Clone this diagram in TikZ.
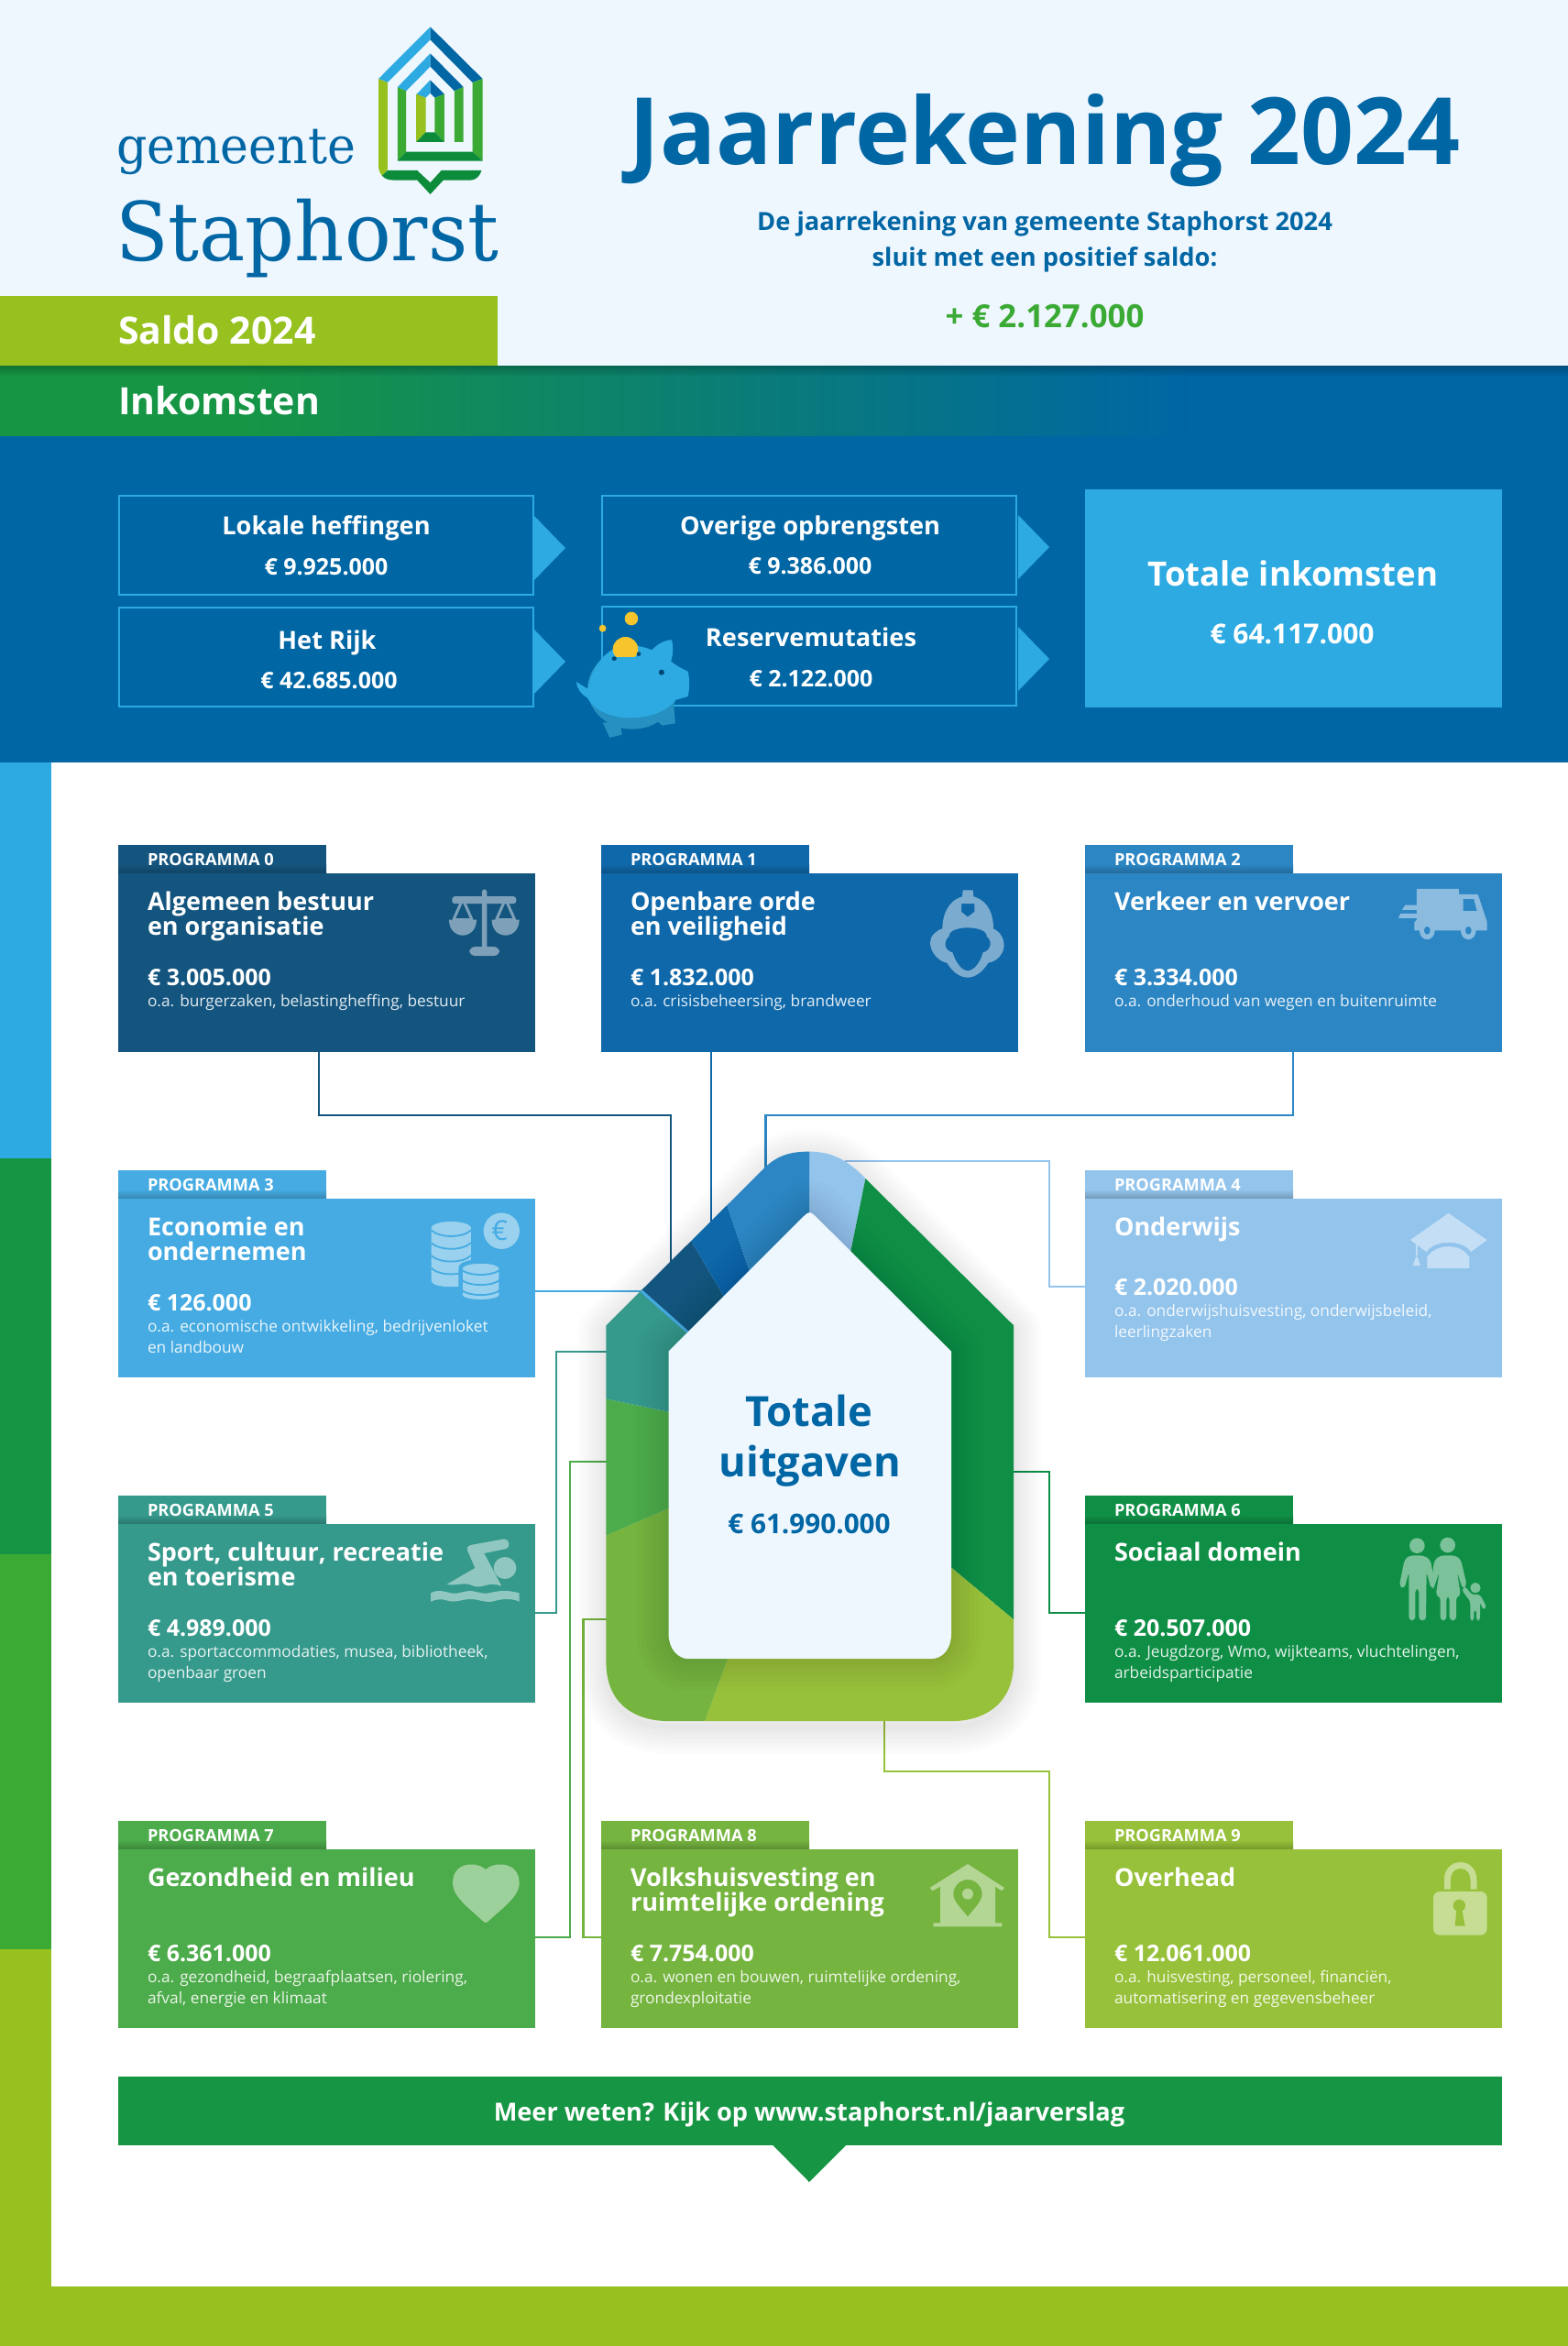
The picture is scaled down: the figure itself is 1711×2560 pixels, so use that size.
\documentclass[tikz,border=0pt]{standalone}
\usepackage{fontspec}
\setmainfont{Open Sans}
\newfontfamily\logofont[FakeStretch=0.95]{DejaVu Serif}
\usetikzlibrary{calc}
\definecolor{hdr}{HTML}{EEF6FE}
\definecolor{bluem}{HTML}{0066A4}
\definecolor{skyb}{HTML}{2DAAE2}
\definecolor{lime}{HTML}{97C11F}
\definecolor{gr}{HTML}{169644}
\definecolor{gr2}{HTML}{3BAA35}
\definecolor{grd}{HTML}{0C8B3A}
\definecolor{pa}{HTML}{14557F}
\definecolor{pb}{HTML}{0F68A9}
\definecolor{pc}{HTML}{2C86C4}
\definecolor{pd}{HTML}{45ABE2}
\definecolor{pe}{HTML}{93C4EC}
\definecolor{pf}{HTML}{35998C}
\definecolor{pg}{HTML}{0F8F46}
\definecolor{ph}{HTML}{4CAB4A}
\definecolor{pi}{HTML}{75B43F}
\definecolor{pj}{HTML}{97C13A}
\definecolor{coin}{HTML}{F6C52D}
\pgfdeclarehorizontalshading{inkbar}{100bp}{color(0bp)=(gr);color(32.3bp)=(gr);color(63bp)=(bluem);color(100bp)=(bluem)}
\newcommand\fsz[1]{\fontsize{#1}{#1}\selectfont}
\tikzset{
  progbox/.style={anchor=north west,minimum width=454.5,minimum height=195,inner sep=0,outer sep=0},
  inbox/.style={anchor=north west,draw=skyb,line width=2.2pt,fill=bluem,minimum width=452,minimum height=108,inner sep=0,outer sep=0},
  txt/.style={inner sep=0,outer sep=0,text=white},
  lbl/.style={txt,anchor=base west},
  ctr/.style={txt,anchor=base},
  conn/.style={line width=2.4pt,miter limit=10},
}
\def\amtoff{122}
\newcommand\prog[9]{%
  \fill[#4] (#2,#3-31) rectangle (#2+227,#3-9);
  \shade[top color=#4,bottom color=#4!78!black] (#2,#3-10) rectangle (#2+227,#3);
  \node[progbox,fill=#4] (p#1) at (#2,#3) {};
  \node[lbl,font=\bfseries\fsz{18.2}] (p#1tab) at (#2+32,#3-9) {PROGRAMMA #1};
  \node[lbl,font=\bfseries\fsz{27}] (p#1ta) at (#2+32,#3+40) {#5};
  \node[lbl,font=\bfseries\fsz{27}] (p#1tb) at (#2+32,#3+67) {#6};
  \node[lbl,font=\bfseries\fsz{25}] (p#1am) at (#2+32,#3+\amtoff) {#7};
  \node[lbl,font=\fsz{17.3},text=white!88!#4] (p#1da) at (#2+32,#3+\amtoff+23.5) {#8};
  \node[lbl,font=\fsz{17.3},text=white!88!#4] (p#1db) at (#2+32,#3+\amtoff+46) {#9};
}
\def\outerh{(720,155) .. controls (760,125) and (800,120) .. (845,120) .. controls (900,120) and (950,135) .. (1005,183) -- (1427,522) -- (1427,1300) .. controls (1427,1400) and (1340,1437) .. (1250,1437) -- (445,1437) .. controls (350,1437) and (265,1400) .. (265,1300) -- (265,522) -- cycle}
\def\innerh{(825,272) .. controls (845,257) and (845,257) .. (865,272) -- (1249,582) -- (1249,1235) .. controls (1249,1270) and (1225,1293) .. (1190,1293) -- (500,1293) .. controls (470,1293) and (443,1270) .. (443,1235) -- (443,582) -- cycle}
\begin{document}
\begin{tikzpicture}[x=1pt,y=-1pt]
\useasboundingbox (0,0) rectangle (1711,2560);
\fill[white] (0,0) rectangle (1711,2560);
% header
\fill[hdr] (0,0) rectangle (1711,399);
\fill[lime] (0,323) rectangle (543,399);
\fill[bluem] (0,475) rectangle (1711,832);
\shade[shading=inkbar] (0,399) rectangle (1711,475.5);
\foreach \i in {0,...,7} \fill[black,opacity=.03] (0,399) rectangle (1711,399+\i*1.6);
% sidebar
\fill[skyb] (0,832) rectangle (56,1264);
\fill[gr] (0,1264) rectangle (56,1696);
\fill[gr2] (0,1696) rectangle (56,2127);
\fill[lime] (0,2127) rectangle (56,2560);
\fill[lime] (0,2495) rectangle (1711,2560);
% logo
\begin{scope}[xscale=.5485,yscale=.3333]
\fill[skyb] (856,88)--(856,130)--(771,270)--(753,258)--cycle;
\fill[bluem] (856,88)--(960,258)--(940,270)--(856,130)--cycle;
\fill[skyb] (856,175)--(856,218)--(808,298)--(791,285)--cycle;
\fill[bluem] (856,175)--(922,285)--(904,298)--(856,218)--cycle;
\fill[skyb] (856,262)--(828,310)--(847,320)--(856,305)--cycle;
\fill[bluem] (856,262)--(884,308)--(865,320)--(856,305)--cycle;
\fill[lime] (753,258)--(771,270)--(771,556)--(760,575) .. controls (755,565) and (753,555) .. (753,540)--cycle;
\fill[gr2] (960,258)--(940,270)--(940,497)--(960,527)--cycle;
\fill[gr2] (791,285)--(808,298)--(808,497)--(791,527)--cycle;
\fill[gr2] (922,285)--(904,298)--(904,465)--(922,465)--cycle;
\fill[lime] (828,308)--(847,320)--(847,433)--(828,465)--cycle;
\fill[gr2] (884,308)--(865,320)--(865,433)--(884,465)--cycle;
\fill[grd] (828,465)--(884,465)--(865,433)--(847,433)--cycle;
\fill[grd] (791,527)--(960,527)--(940,497)--(808,497)--cycle;
\fill[grd] (771,558)--(830,558)--(856,598)--(878,558)--(958,558)--(955,570) .. controls (950,582) and (945,590) .. (935,590)--(882,590)--(856,636)--(830,590)--(785,590) .. controls (772,590) and (765,585) .. (760,575)--cycle;
\end{scope}
\node[txt,anchor=base west,text=bluem,font=\logofont\fsz{55}] (gem) at (127,178) {gemeente};
\node[txt,anchor=base west,text=bluem,font=\logofont\fsz{88.7}] (sta) at (126,284) {Staphorst};
% title
\node[ctr,text=bluem,font=\bfseries\fsz{101.4}] (jr) at (1140,179) {Jaarrekening 2024};
\node[ctr,text=bluem,font=\bfseries\fsz{27.3}] (sa) at (1140,251) {De jaarrekening van gemeente Staphorst 2024};
\node[ctr,text=bluem,font=\bfseries\fsz{27.3}] (sb) at (1140,290) {sluit met een positief saldo:};
\node[ctr,text=gr2,font=\bfseries\fsz{34.8}] (pl) at (1140,357) {+ € 2.127.000};
\node[lbl,font=\bfseries\fsz{41}] (sal) at (129,375) {Saldo 2024};
\node[lbl,font=\bfseries\fsz{41}] (ink) at (129,452) {Inkomsten};
% income boxes
\foreach \a/\b in {583/563,583/687,1111/562,1111/684}
  \fill[skyb] (\a,\b) -- (\a+34,\b+35) -- (\a,\b+70) -- cycle;
\node[inbox] (lok) at (130,541) {};
\node[inbox] (ove) at (657,541) {};
\node[inbox] (rij) at (130,663) {};
\node[inbox] (res) at (657,662) {};
\node[anchor=north west,fill=skyb,minimum width=455,minimum height=238,inner sep=0,outer sep=0] (tot) at (1184,534) {};
\node[ctr,font=\bfseries\fsz{27.2}] (t1) at (356,583) {Lokale heffingen};
\node[ctr,font=\bfseries\fsz{25}] (a1) at (356,627) {€ 9.925.000};
\node[ctr,font=\bfseries\fsz{27.2}] (t2) at (884,583) {Overige opbrengsten};
\node[ctr,font=\bfseries\fsz{25}] (a2) at (884,626) {€ 9.386.000};
\node[ctr,font=\bfseries\fsz{27.2}] (t3) at (357,708) {Het Rijk};
\node[ctr,font=\bfseries\fsz{25}] (a3) at (359,751) {€ 42.685.000};
\node[ctr,font=\bfseries\fsz{27.2}] (t4) at (885,705) {Reservemutaties};
\node[ctr,font=\bfseries\fsz{25}] (a4) at (885,749) {€ 2.122.000};
\node[ctr,font=\bfseries\fsz{36.6}] (t5) at (1411,639) {Totale inkomsten};
\node[ctr,font=\bfseries\fsz{30}] (a5) at (1410,702) {€ 64.117.000};
% piggy
\begin{scope}[shift={(560,620)},xscale=.3827,yscale=.3333]
\fill[coin] (337,165) ellipse [x radius=19,y radius=22];
\fill[coin] (255,197) ellipse [x radius=10,y radius=12];
\fill[skyb!85!black] (340,395) ellipse [x radius=128,y radius=132];
\fill[skyb!85!black] (255,505)--(275,555)--(310,545)--(305,505)--cycle (410,500)--(425,515)--(462,508)--(458,450)--cycle;
\fill[skyb] (180,372) -- (212,395) .. controls (225,320) and (260,275) .. (300,258) -- (355,255) .. controls (370,258) and (385,262) .. (395,268) .. controls (410,250) and (430,235) .. (452,235) .. controls (458,260) and (455,285) .. (450,305) .. controls (465,320) and (480,328) .. (498,338) .. controls (505,370) and (502,400) .. (498,420) -- (462,432) .. controls (440,470) and (380,492) .. (330,490) .. controls (280,490) and (230,465) .. (212,425) .. controls (195,415) and (182,395) .. (180,372) -- cycle;
\fill[coin] (320,265) ellipse [x radius=36,y radius=40];
\fill[skyb] (270,290) rectangle (370,310);
\fill[bluem!70!black] (288,296) ellipse [x radius=7,y radius=7] (358,281) ellipse [x radius=6,y radius=7];
\fill[bluem!70!black] (423,341) ellipse [x radius=8,y radius=9];
\end{scope}
% connectors
\coordinate (h0) at (732,1380); \coordinate (h1) at (776,1340);
\coordinate (h2) at (835.5,1285); \coordinate (h3) at (700,1409);
\coordinate (h4) at (922,1267); \coordinate (h5) at (665,1475);
\coordinate (h6) at (1100,1606); \coordinate (h7) at (665,1595);
\coordinate (h8) at (665,1767); \coordinate (h9) at (965,1870);
% programme boxes
\prog{0}{129}{953}{pa}{Algemeen bestuur}{en organisatie}{€ 3.005.000}{o.a. burgerzaken, belastingheffing, bestuur}{}
\prog{1}{656}{953}{pb}{Openbare orde}{en veiligheid}{€ 1.832.000}{o.a. crisisbeheersing, brandweer}{}
\prog{2}{1184}{953}{pc}{Verkeer en vervoer}{}{€ 3.334.000}{o.a. onderhoud van wegen en buitenruimte}{}
\prog{3}{129}{1308}{pd}{Economie en}{ondernemen}{€ 126.000}{o.a. economische ontwikkeling, bedrijvenloket}{en landbouw}
\def\amtoff{105}
\prog{4}{1184}{1308}{pe}{Onderwijs}{}{€ 2.020.000}{o.a. onderwijshuisvesting, onderwijsbeleid,}{leerlingzaken}
\def\amtoff{122}
\prog{5}{129}{1663}{pf}{Sport, cultuur, recreatie}{en toerisme}{€ 4.989.000}{o.a. sportaccommodaties, musea, bibliotheek,}{openbaar groen}
\prog{6}{1184}{1663}{pg}{Sociaal domein}{}{€ 20.507.000}{o.a. Jeugdzorg, Wmo, wijkteams, vluchtelingen,}{arbeidsparticipatie}
\prog{7}{129}{2018}{ph}{Gezondheid en milieu}{}{€ 6.361.000}{o.a. gezondheid, begraafplaatsen, riolering,}{afval, energie en klimaat}
\prog{8}{656}{2018}{pi}{Volkshuisvesting en}{ruimtelijke ordening}{€ 7.754.000}{o.a. wonen en bouwen, ruimtelijke ordening,}{grondexploitatie}
\prog{9}{1184}{2018}{pj}{Overhead}{}{€ 12.061.000}{o.a. huisvesting, personeel, financiën,}{automatisering en gegevensbeheer}
\draw[conn,pa] ([xshift=-8pt]p0.south) |- (732,1217) -- (h0);
\draw[conn,pb] (p1.south -| h1) -- (h1);
\draw[conn,pc] (p2.south) |- (835.5,1217) -- (h2);
\draw[conn,pd] (p3.east |- h3) -- (h3);
\draw[conn,pe] (h4) -| (1145,1404) -- (p4.west |- 0,1404);
\draw[conn,pf] (h5) -| (607,1760) -- (p5.east |- 0,1760);
\draw[conn,pg] (h6) -| (1145,1760) -- (p6.west |- 0,1760);
\draw[conn,ph] (h7) -| (622,2114) -- (p7.east |- 0,2114);
\draw[conn,pi] (h8) -| (636.5,2114) -- (p8.west |- 0,2114);
\draw[conn,pj] (h9) |- (1145,1933) |- (p9.west |- 0,2114);
% central house
\begin{scope}[shift={(560,1200)},xscale=.3827,yscale=.4719]
\foreach \w in {60,52,44,36,28,20,12,6}
  \draw[black,opacity=.012,line width=\w pt,line join=round,yshift=-12pt] \outerh;
\begin{scope}
\clip \outerh;
\fill[pe] (845,263)--(845,0)--(1020,0)--(1020,120)--(963,348)--(845,800)--cycle;
\fill[pg] (963,348)--(1020,120)--(1600,120)--(1600,1319)--(1249,1082)--(845,800)--cycle;
\fill[pj] (1249,1082)--(1600,1319)--(1600,1600)--(473,1600)--(612,1293)--(845,800)--cycle;
\fill[pi] (612,1293)--(473,1600)--(100,1600)--(100,1066)--(443,945)--(845,800)--cycle;
\fill[ph] (443,945)--(100,1066)--(100,664)--(443,722)--(845,800)--cycle;
\fill[pf] (443,722)--(100,664)--(100,300)--(260,366)--(497,537)--(845,800)--cycle;
\fill[pa] (497,537)--(260,366)--(416,200)--(597,450)--(845,800)--cycle;
\fill[pb] (597,450)--(416,200)--(549,100)--(672,392)--(845,800)--cycle;
\fill[pc] (672,392)--(549,100)--(845,0)--(845,263)--(845,800)--cycle;
\draw[pd,line width=3pt] (365,442)--(497,537);
\foreach \w in {70,60,50,40,30,20,12,6}
  \draw[black,opacity=.012,line width=\w pt,line join=round] \innerh;
\end{scope}
\fill[hdr] \innerh;
\end{scope}
\node[ctr,text=bluem,font=\bfseries\fsz{45.3}] (to) at (883,1556) {Totale};
\node[ctr,text=bluem,font=\bfseries\fsz{45.3}] (ui) at (884,1611) {uitgaven};
\node[ctr,text=bluem,font=\bfseries\fsz{29.7}] (eu) at (883,1673) {€ 61.990.000};
% bottom bar
\node[anchor=north west,fill=gr,minimum width=1509.5,minimum height=75,inner sep=0,outer sep=0] (bar) at (129,2266) {};
\fill[gr] (842.5,2340)--(924,2340)--(883,2381)--cycle;
\node[ctr,font=\bfseries\fsz{27.2}] (bt) at (883,2314) {Meer weten? Kijk op www.staphorst.nl/jaarverslag};
% icons
\colorlet{ic}{white!45!pa}
\begin{scope}[shift={(100,900)},xscale=.3333,yscale=.395]
\fill[ic,rounded corners=3pt] (1278,178) rectangle (1294,350) (1180,198) rectangle (1390,218);
\fill[ic,rounded corners=6pt] (1237,337) rectangle (1335,362);
\draw[ic,line width=3pt,line join=round] (1215,205)--(1185,262)--(1245,262)--cycle (1355,205)--(1325,262)--(1385,262)--cycle;
\fill[ic] (1170,262) .. controls (1170,320) and (1260,320) .. (1260,262) -- cycle (1310,262) .. controls (1310,320) and (1400,320) .. (1400,262) -- cycle;
\end{scope}
\colorlet{ic}{white!45!pb}
\begin{scope}[shift={(980,950)},scale=.3333]
\fill[ic,even odd rule] (212,64) -- (245,64) -- (247,85) .. controls (300,100) and (312,150) .. (312,190) .. controls (345,205) and (355,245) .. (340,270) .. controls (330,290) and (310,300) .. (295,302) .. controls (275,335) and (250,350) .. (228,350) .. controls (205,350) and (180,335) .. (160,302) .. controls (135,298) and (105,270) .. (105,235) .. controls (105,215) and (125,195) .. (145,190) .. controls (145,150) and (160,100) .. (210,85) -- cycle
 (228,187) .. controls (200,187) and (165,195) .. (167,215) .. controls (148,230) and (150,262) .. (178,268) .. controls (190,305) and (210,328) .. (228,328) .. controls (246,328) and (268,305) .. (278,268) .. controls (305,262) and (310,230) .. (290,215) .. controls (292,195) and (255,187) .. (228,187) -- cycle
 (207,108) -- (250,108) -- (250,135) -- (228,152) -- (207,135) -- cycle;
\end{scope}
\colorlet{ic}{white!45!pc}
\begin{scope}[shift={(1150,900)},xscale=.3333,yscale=.395]
\fill[ic,even odd rule] (1188,177)--(1325,177)--(1327,192)--(1388,192)--(1418,268)--(1418,292)--(1180,292)--(1180,270)--(1188,262)--cycle (1340,205)--(1375,205)--(1385,238)--(1340,238)--cycle;
\fill[ic] (1150,222)--(1188,222)--(1188,235)--(1140,235)--cycle (1135,245)--(1188,245)--(1188,258)--(1128,258)--cycle;
\fill[ic] (1222,292) ellipse [x radius=25,y radius=25] (1357,292) ellipse [x radius=25,y radius=25];
\fill[pc] (1222,292) ellipse [x radius=10,y radius=11] (1357,292) ellipse [x radius=10,y radius=11];
\end{scope}
\colorlet{ic}{white!45!pd}
\begin{scope}[shift={(100,900)},xscale=.3333,yscale=.395]
\fill[ic] (1112,1115) .. controls (1112,1090) and (1242,1090) .. (1242,1115) -- (1242,1260) .. controls (1242,1282) and (1112,1282) .. (1112,1260) -- cycle;
\foreach \k in {1120,1155,1190,1225}
  \draw[pd,line width=1.8pt] (1112,\k) .. controls (1140,\k+22) and (1214,\k+22) .. (1242,\k);
\draw[pd,line width=4.5pt,fill=ic] (1208,1225) .. controls (1208,1200) and (1340,1200) .. (1340,1225) -- (1340,1300) .. controls (1340,1323) and (1208,1323) .. (1208,1300) -- cycle;
\foreach \k in {1228,1256,1284}
  \draw[pd,line width=1.8pt] (1208,\k) .. controls (1236,\k+20) and (1312,\k+20) .. (1340,\k);
\fill[ic] (1342,1122) ellipse [x radius=59,y radius=50];
\node[txt,text=pd,font=\fsz{30}] (eur) at (1336,1122) {€};
\end{scope}
\colorlet{ic}{white!45!pe}
\begin{scope}[shift={(1150,900)},xscale=.3333,yscale=.395]
\fill[ic] (1292,1073)--(1418,1147)--(1365,1180) .. controls (1340,1145) and (1245,1145) .. (1220,1180)--(1167,1147)--cycle;
\fill[ic] (1222,1225)--(1360,1225)--(1360,1195) .. controls (1335,1155) and (1250,1155) .. (1222,1195)--cycle;
\fill[ic] (1185,1160) rectangle (1190,1195) (1188,1188)--(1200,1218)--(1175,1218)--cycle;
\end{scope}
\colorlet{ic}{white!45!pf}
\begin{scope}[shift={(450,1660)},scale=.3333]
\fill[ic] (303,153) ellipse [x radius=37,y radius=36];
\fill[ic] (112,207) -- (205,153) -- (180,95) .. controls (178,85) and (182,80) .. (190,78) -- (300,58) .. controls (318,58) and (322,85) .. (308,90) -- (235,105) -- (292,212) .. controls (270,205) and (255,205) .. (240,210) .. controls (220,216) and (205,216) .. (190,208) .. controls (165,200) and (140,212) .. (112,207) -- cycle;
\fill[ic] (60,235) .. controls (85,222) and (105,230) .. (125,235) .. controls (145,240) and (165,230) .. (185,228) .. controls (205,226) and (225,240) .. (250,235) .. controls (275,230) and (300,222) .. (350,235) -- (350,263) .. controls (320,250) and (290,255) .. (265,262) .. controls (240,268) and (215,255) .. (190,255) .. controls (165,255) and (140,268) .. (115,260) .. controls (95,253) and (80,255) .. (60,263) -- cycle;
\end{scope}
\colorlet{ic}{white!45!pg}
\begin{scope}[shift={(1510,1660)},scale=.3333]
\fill[ic] (109,80) ellipse [x radius=25,y radius=25] (209,78) ellipse [x radius=25,y radius=25] (300,218) ellipse [x radius=17,y radius=17];
\fill[ic,rounded corners=4pt] (85,112)--(130,112)--(152,125)--(170,215)--(155,222)--(140,165)--(138,325)--(115,325)--(115,220)--(103,220)--(103,325)--(82,325)--(82,165)--(68,220)--(50,214)--(68,125)--cycle;
\fill[ic,rounded corners=4pt] (185,112)--(235,112)--(252,125)--(272,210)--(258,222)--(240,165)--(252,245)--(237,245)--(237,325)--(215,325)--(215,245)--(205,245)--(205,325)--(185,325)--(185,245)--(170,245)--(182,165)--(165,215)--(156,200)--(165,128)--cycle;
\fill[ic,rounded corners=3pt] (265,212)--(288,240)--(315,240)--(337,282)--(325,290)--(315,265)--(315,325)--(303,325)--(303,290)--(295,290)--(295,325)--(283,325)--(283,262)--(255,225)--cycle;
\end{scope}
\colorlet{ic}{white!45!ph}
\begin{scope}[shift={(480,2020)},scale=.3333]
\fill[ic] (150,60) .. controls (125,35) and (42,30) .. (42,105) .. controls (42,150) and (100,190) .. (142,230) .. controls (148,236) and (152,236) .. (158,230) .. controls (200,190) and (260,150) .. (260,105) .. controls (260,30) and (175,35) .. (150,60) -- cycle;
\end{scope}
\colorlet{ic}{white!45!pi}
\begin{scope}[shift={(1000,2020)},scale=.3333]
\fill[ic,even odd rule] (168,42)--(288,120)--(280,130)--(258,116)--(258,235)--(280,235)--(280,247)--(55,247)--(55,235)--(78,235)--(78,116)--(52,130)--(44,120)--cycle
 (168,215) .. controls (145,185) and (121,165) .. (121,140) .. controls (121,115) and (142,93) .. (168,93) .. controls (194,93) and (215,115) .. (215,140) .. controls (215,165) and (191,185) .. (168,215) -- cycle
 (168,122) .. controls (178,122) and (186,130) .. (186,140) .. controls (186,150) and (178,158) .. (168,158) .. controls (158,158) and (150,150) .. (150,140) .. controls (150,130) and (158,122) .. (168,122) -- cycle;
\end{scope}
\colorlet{ic}{white!45!pj}
\begin{scope}[shift={(1540,2020)},scale=.3333]
\draw[ic,line width=7pt] (118,125) -- (118,95) .. controls (118,30) and (204,30) .. (204,95) -- (204,125);
\fill[ic,rounded corners=7pt] (72,132) rectangle (248,275);
\fill[pj] (157,178) ellipse [x radius=20,y radius=20] (148,190)--(166,190)--(176,245)--(143,245)--cycle;
\end{scope}
\end{tikzpicture}
\end{document}
